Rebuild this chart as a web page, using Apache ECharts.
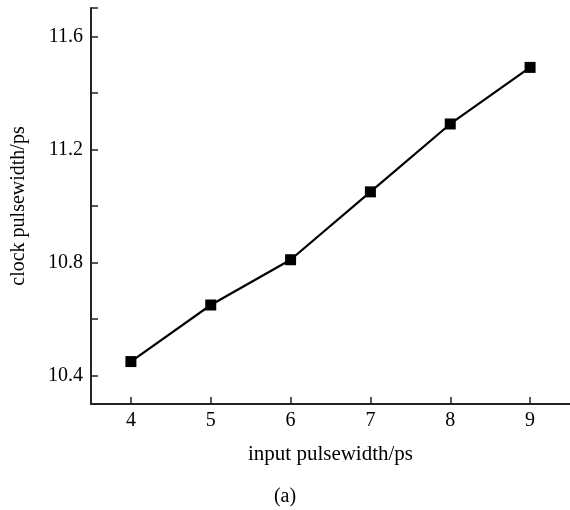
<!DOCTYPE html>
<html>
<head>
<meta charset="utf-8">
<script src="https://cdn.jsdelivr.net/npm/echarts@6/dist/echarts.min.js"></script>
<style>
  html, body { margin: 0; padding: 0; background: #fff; }
  #chart { width: 570px; height: 510px; }
</style>
</head>
<body>
<div id="chart"></div>
<script>
// input pulsewidth vs clock pulsewidth
var inputWidth = [4, 5, 6, 7, 8, 9];
var clockWidth = [10.45, 10.65, 10.81, 11.05, 11.29, 11.49];
var yTicks = [10.4, 10.6, 10.8, 11.0, 11.2, 11.4, 11.6, 11.7];
var yLabels = [10.4, 10.8, 11.2, 11.6];
var xTicks = [4, 5, 6, 7, 8, 9];

var points = [];
for (var i = 0; i < inputWidth.length; i++) {
    points.push([inputWidth[i], clockWidth[i]]);
}

var font = '"Liberation Serif", "DejaVu Serif", serif';
var chart = echarts.init(document.getElementById('chart'));

var option = {
    animation: false,
    backgroundColor: '#fff',
    grid: { left: 91, top: 8, width: 483, height: 396 },
    title: {
        text: '(a)',
        left: 'center',
        top: 482,
        textStyle: { fontFamily: font, fontSize: 20, fontWeight: 'normal', color: '#000' }
    },
    xAxis: {
        type: 'value',
        min: 3.5,
        max: 9.5,
        name: 'input pulsewidth/ps',
        nameLocation: 'middle',
        nameGap: 40,
        nameTextStyle: { fontFamily: font, fontSize: 21, color: '#000' },
        splitLine: { show: false },
        axisLine: { lineStyle: { color: '#222', width: 2 } },
        axisTick: { inside: true, length: 7, customValues: xTicks, lineStyle: { color: '#222', width: 1.5 } },
        axisLabel: { customValues: xTicks, fontFamily: font, fontSize: 20, color: '#000', margin: 7 }
    },
    yAxis: {
        type: 'value',
        min: 10.3,
        max: 11.7,
        name: 'clock pulsewidth/ps',
        nameLocation: 'middle',
        nameGap: 62,
        nameTextStyle: { fontFamily: font, fontSize: 20, color: '#000' },
        splitLine: { show: false },
        axisLine: { lineStyle: { color: '#222', width: 2 } },
        axisTick: { inside: true, length: 7, customValues: yTicks, lineStyle: { color: '#222', width: 1.5 } },
        axisLabel: {
            customValues: yLabels,
            fontFamily: font, fontSize: 20, color: '#000', margin: 8,
            formatter: function (v) { return v.toFixed(1); }
        }
    },
    series: [{
        type: 'line',
        data: points,
        symbol: 'rect',
        symbolSize: 11,
        lineStyle: { color: '#000', width: 2.2 },
        itemStyle: { color: '#000' }
    }]
};

chart.setOption(option);
</script>
</body>
</html>
